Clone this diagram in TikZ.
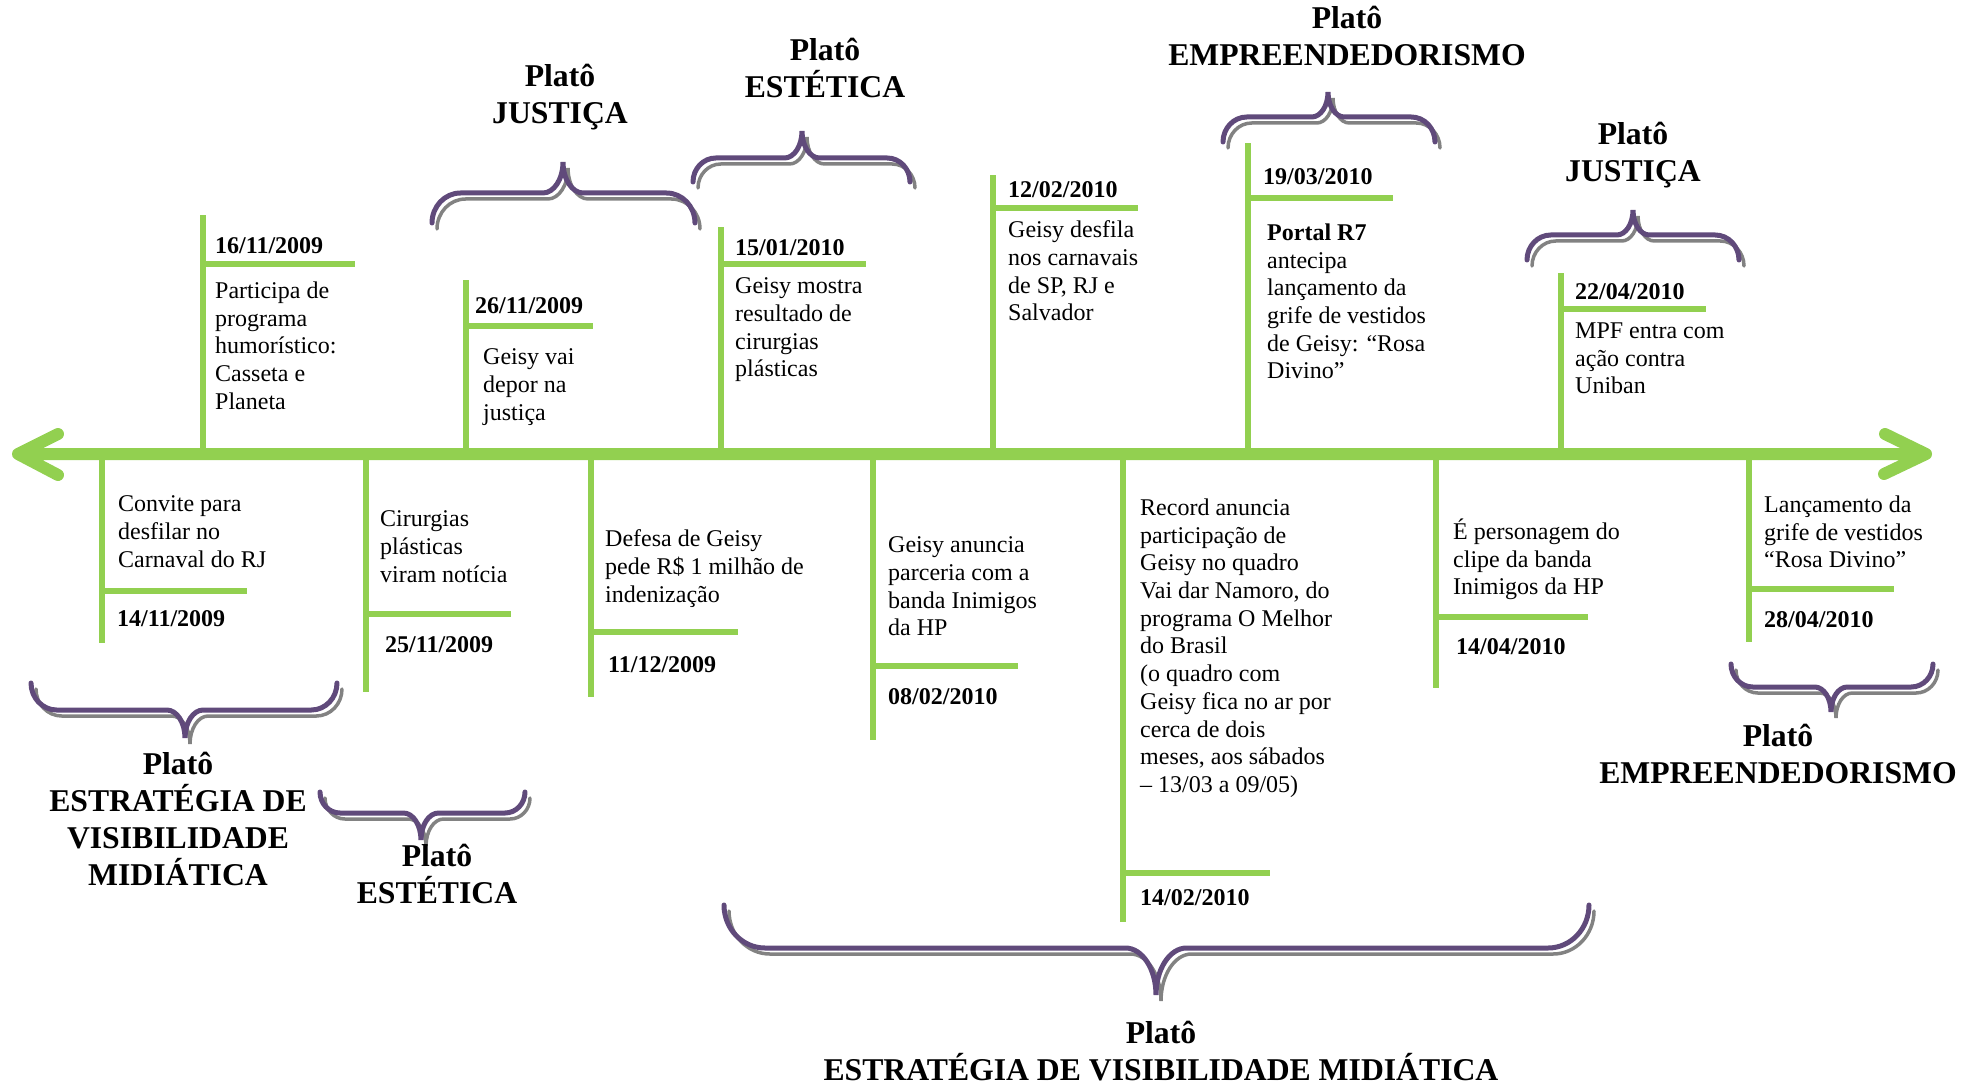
\documentclass[tikz,border=0pt]{standalone}
\usepackage{fontspec}
\setmainfont{Liberation Serif}
\usetikzlibrary{positioning}
\definecolor{linegreen}{RGB}{146,208,80}
\definecolor{bracepurple}{RGB}{96,74,123}
\definecolor{shadowgray}{RGB}{130,130,130}

\tikzset{
  axisline/.style={linegreen, line width=12pt, line cap=round, line join=round},
  axisshadow/.style={shadowgray, line width=10pt, line cap=round, line join=round, shift={(5,6)}},
  tickline/.style={linegreen, line width=6pt},
  tickshadow/.style={shadowgray, line width=5pt, shift={(6,6)}},
  bracestroke/.style={bracepurple, line width=5pt, line cap=round},
  braceshadow/.style={shadowgray, line width=3.5pt, line cap=round, shift={(5,6)}},
  datelabel/.style={font=\fontsize{24}{27.7}\selectfont\bfseries, inner sep=0pt, anchor=base west},
  eventtext/.style={font=\fontsize{24}{27.7}\selectfont, align=left, inner sep=0pt,
    anchor=north west, yshift=19.39pt, execute at begin node=\strut},
  plato/.style={font=\fontsize{31.7}{37}\selectfont\bfseries, align=center, inner sep=0pt,
    anchor=north, yshift=25.9pt, execute at begin node=\strut},
}

% name, x, end y, bar y, bar end x
\newcommand{\eventline}[5]{%
  \coordinate (#1) at (#2,454);
  \coordinate (#1-end) at (#2,#3);
  \coordinate (#1-bar) at ({#2+3},#4);
  \coordinate (#1-tip) at (#5,#4);
  \draw[tickshadow] (#1) -- (#1-end) (#1-bar) -- (#1-tip);
  \draw[tickline] (#1) -- (#1-end) (#1-bar) -- (#1-tip);
}

% style, left x, tip x, right x, end y, bar y, tip y
\newcommand{\bracecurve}[7]{%
  \pgfmathsetmacro\brcEnd{0.95*abs(#5-#6)}
  \pgfmathsetmacro\brcTip{0.65*abs(#6-#7)}
  \draw[#1] (#2,#5) .. controls (#2,{#5+0.552*(#6-#5)}) and ({#2+0.448*\brcEnd},#6) .. ({#2+\brcEnd},#6)
    -- ({#3-\brcTip},#6) .. controls ({#3-0.448*\brcTip},#6) and (#3,{#7+0.552*(#6-#7)}) .. (#3,#7)
    .. controls (#3,{#7+0.552*(#6-#7)}) and ({#3+0.448*\brcTip},#6) .. ({#3+\brcTip},#6)
    -- ({#4-\brcEnd},#6) .. controls ({#4-0.448*\brcEnd},#6) and (#4,{#5+0.552*(#6-#5)}) .. (#4,#5);
}
\newcommand{\platobrace}[6]{%
  \bracecurve{braceshadow}{#1}{#2}{#3}{#4}{#5}{#6}
  \bracecurve{bracestroke}{#1}{#2}{#3}{#4}{#5}{#6}
}

\begin{document}
\begin{tikzpicture}[x=1pt, y=-1pt]
  \useasboundingbox (0,0) rectangle (1981,1086);

  % Events above the line
  \eventline{a1}{203}{215}{264}{355}
  \node[datelabel] (a1-date) at (215,253) {16/11/2009};
  \node[eventtext] (a1-text) at (215,301) {Participa de\\programa\\humorístico:\\Casseta e\\Planeta};

  \eventline{a2}{466}{280}{326}{593}
  \node[datelabel] (a2-date) at (475,313) {26/11/2009};
  \node[eventtext] (a2-text) at (483,368) {Geisy vai\\depor na\\justiça};

  \eventline{a3}{721}{227}{264}{866}
  \node[datelabel] (a3-date) at (735,255) {15/01/2010};
  \node[eventtext] (a3-text) at (735,297) {Geisy mostra\\resultado de\\cirurgias\\plásticas};

  \eventline{a4}{993}{175}{208}{1138}
  \node[datelabel] (a4-date) at (1008,198) {12/02/2010};
  \node[eventtext] (a4-text) at (1008,240) {Geisy desfila\\nos carnavais\\de SP, RJ e\\Salvador};

  \eventline{a5}{1248}{143}{198}{1393}
  \node[datelabel] (a5-date) at (1263,185) {19/03/2010};
  \node[eventtext] (a5-text) at (1267,243) {\textbf{Portal R7}\\antecipa\\lançamento da\\grife de vestidos\\de Geisy: “Rosa\\Divino”};

  \eventline{a6}{1561}{273}{309}{1706}
  \node[datelabel] (a6-date) at (1575,299) {22/04/2010};
  \node[eventtext] (a6-text) at (1575,342) {MPF entra com\\ação contra\\Uniban};

  % Events below the line
  \eventline{b1}{102}{643}{591}{247}
  \node[eventtext] (b1-text) at (118,515) {Convite para\\desfilar no\\Carnaval do RJ};
  \node[datelabel] (b1-date) at (117,626) {14/11/2009};

  \eventline{b2}{366}{692}{614}{511}
  \node[eventtext] (b2-text) at (380,530) {Cirurgias\\plásticas\\viram notícia};
  \node[datelabel] (b2-date) at (385,652) {25/11/2009};

  \eventline{b3}{591}{697}{632}{738}
  \node[eventtext] (b3-text) at (605,549) {Defesa de Geisy\\pede R\$ 1 milhão de\\indenização};
  \node[datelabel] (b3-date) at (608,672) {11/12/2009};

  \eventline{b4}{873}{740}{666}{1018}
  \node[eventtext] (b4-text) at (888,556) {Geisy anuncia\\parceria com a\\banda Inimigos\\da HP};
  \node[datelabel] (b4-date) at (888,704) {08/02/2010};

  \eventline{b5}{1123}{922}{873}{1270}
  \node[eventtext] (b5-text) at (1140,518) {Record anuncia\\participação de\\Geisy no quadro\\Vai dar Namoro, do\\programa O Melhor\\do Brasil\\(o quadro com\\Geisy fica no ar por\\cerca de dois\\meses, aos sábados\\– 13/03 a 09/05)};
  \node[datelabel] (b5-date) at (1140,905) {14/02/2010};

  \eventline{b6}{1436}{688}{617}{1588}
  \node[eventtext] (b6-text) at (1453,538) {É personagem do\\clipe da banda\\Inimigos da HP};
  \node[datelabel] (b6-date) at (1456,654) {14/04/2010};

  \eventline{b7}{1749}{642}{589}{1894}
  \node[eventtext] (b7-text) at (1764,515) {Lançamento da\\grife de vestidos\\“Rosa Divino”};
  \node[datelabel] (b7-date) at (1764,627) {28/04/2010};

  % Main line
  \coordinate (left) at (18,454);
  \coordinate (right) at (1926,454);
  \coordinate (lw1) at (58,434);
  \coordinate (lw2) at (58,475);
  \coordinate (rw1) at (1885,434);
  \coordinate (rw2) at (1884,474);
  \draw[axisshadow] (left) -- (right) (lw1) -- (left) -- (lw2) (rw1) -- (right) -- (rw2);
  \draw[axisline] (left) -- (right) (lw1) -- (left) -- (lw2) (rw1) -- (right) -- (rw2);

  % Plateaus above
  \platobrace{432}{563}{695}{223}{193}{162}
  \node[plato] (j1) at (560,90) {Platô\\JUSTIÇA};
  \platobrace{693}{802}{910}{182}{158}{131}
  \node[plato] (e1) at (825,64) {Platô\\ESTÉTICA};
  \platobrace{1223}{1328}{1435}{142}{117}{92}
  \node[plato] (m1) at (1347,32) {Platô\\EMPREENDEDORISMO};
  \platobrace{1527}{1633}{1739}{260}{235}{210}
  \node[plato] (j2) at (1633,148) {Platô\\JUSTIÇA};

  % Plateaus below
  \platobrace{31}{185}{337}{683}{710}{738}
  \node[plato] (s1) at (178,778) {Platô\\ESTRATÉGIA DE\\VISIBILIDADE\\MIDIÁTICA};
  \platobrace{320}{421}{525}{792}{813}{840}
  \node[plato] (e2) at (437,870) {Platô\\ESTÉTICA};
  \platobrace{724}{1156}{1589}{905}{948}{995}
  \node[plato] (s2) at (1161,1047) {Platô\\ESTRATÉGIA DE VISIBILIDADE MIDIÁTICA};
  \platobrace{1731}{1831}{1933}{664}{687}{712}
  \node[plato] (m2) at (1778,750) {Platô\\EMPREENDEDORISMO};
\end{tikzpicture}
\end{document}
